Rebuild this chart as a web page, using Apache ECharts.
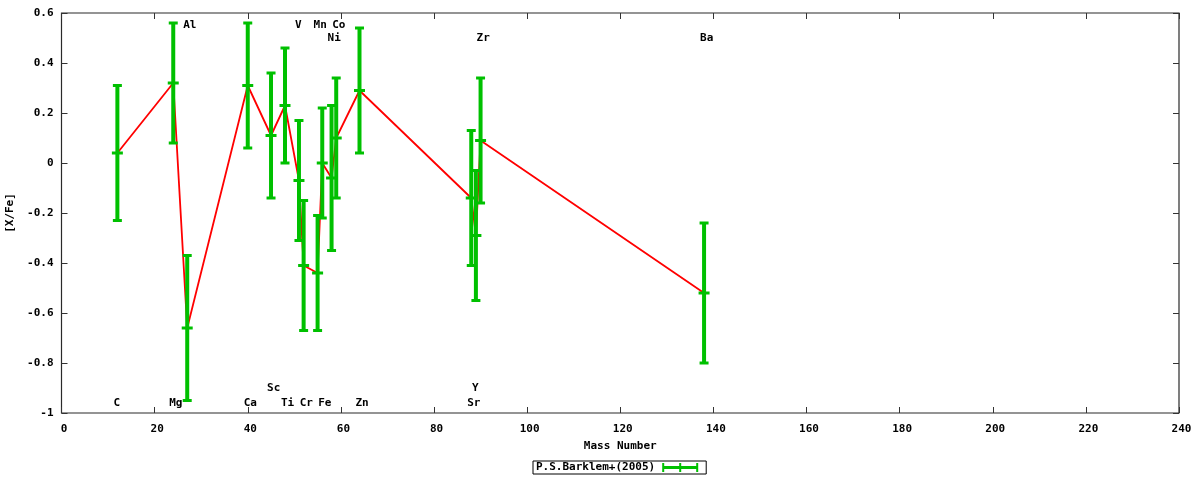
<!DOCTYPE html>
<html>
<head>
<meta charset="utf-8">
<script src="https://cdn.jsdelivr.net/npm/echarts@6/dist/echarts.min.js"></script>
<style>html,body{margin:0;padding:0;background:#fff;}#c{width:1200px;height:480px;}</style>
</head>
<body>
<div id="c"></div>
<script>
// ---- data ----
const elements   = ['C','Mg','Al','Ca','Sc','Ti','V','Cr','Mn','Fe','Ni','Co','Zn','Sr','Y','Zr','Ba'];
const massNumber = [12, 24, 27, 40, 45, 48, 51, 52, 55, 56, 58, 59, 64, 88, 89, 90, 138];
const xFe        = [0.04, 0.32, -0.66, 0.31, 0.11, 0.23, -0.07, -0.41, -0.44, 0.00, -0.06, 0.10, 0.29, -0.14, -0.29, 0.09, -0.52];
const xFeErr     = [0.27, 0.24, 0.29, 0.25, 0.25, 0.23, 0.24, 0.26, 0.23, 0.22, 0.29, 0.24, 0.25, 0.27, 0.26, 0.25, 0.28];

const labelText  = ['C','Mg','Al','Ca','Sc','Ti','V','Cr','Mn','Fe','Ni','Co','Zn','Sr','Y','Zr','Ba'];
const labelX     = [12, 24, 27, 40, 45, 48, 51, 52, 55, 56, 58, 59, 64, 88, 89, 90, 138];
const labelY     = [-0.96, -0.96, 0.55, -0.96, -0.9, -0.96, 0.55, -0.96, 0.55, -0.96, 0.5, 0.55, -0.96, -0.96, -0.9, 0.5, 0.5];

const xTicks = {min: 0, max: 240, interval: 20};
const yTicks = {min: -1, max: 0.6, interval: 0.2};
const seriesName = 'P.S.Barklem+(2005)';

// ---- chart ----
const FONT = 'DejaVu Sans Mono';
const GREEN = '#00c000';
const chart = echarts.init(document.getElementById('c'), null, {renderer: 'canvas'});

const errData = massNumber.map((m, i) => [m, xFe[i], xFeErr[i]]);
const lineData = massNumber.map((m, i) => [m, xFe[i]]);
const lblData = labelX.map((m, i) => [m, labelY[i]]);

const axisText = {color: '#000', fontFamily: FONT, fontWeight: 'bold', fontSize: 11};
const tickStyle = {show: true, inside: true, length: 6, lineStyle: {color: '#333'}};

chart.setOption({
  animation: false,
  backgroundColor: '#fff',
  grid: {left: 61.5, right: 21, top: 13, bottom: 67, show: true, borderColor: '#2a2a2a', borderWidth: 1.2,
         backgroundColor: 'transparent', containLabel: false, outerBoundsMode: 'none'},
  legend: {
    data: [seriesName],
    left: 533, top: 461,
    align: 'right',
    itemWidth: 36, itemHeight: 9,
    itemGap: 5,
    padding: [1, 8, 1, 3],
    borderColor: '#000', borderWidth: 1, borderRadius: 0,
    textStyle: {color: '#000', fontFamily: FONT, fontWeight: 'bold', fontSize: 11, padding: [0, 2, 0, 0]},
    icon: 'path://M0,0h2v3h15v-3h2v3h15v-3h2v9h-2v-3h-15v3h-2v-3h-15v3h-2z',
    itemStyle: {color: GREEN}
  },
  xAxis: [{
    type: 'value', min: xTicks.min, max: xTicks.max, interval: xTicks.interval,
    name: 'Mass Number', nameLocation: 'middle', nameGap: 28,
    nameTextStyle: axisText,
    axisLine: {show: false, onZero: false},
    axisTick: tickStyle,
    axisLabel: Object.assign({margin: 11, padding: [0, 0, 0, 5]}, axisText),
    splitLine: {show: false}
  }, {
    type: 'value', position: 'top', min: xTicks.min, max: xTicks.max, interval: xTicks.interval,
    axisLine: {show: false, onZero: false},
    axisTick: tickStyle,
    axisLabel: {show: false}, splitLine: {show: false}
  }],
  yAxis: [{
    type: 'value', min: yTicks.min, max: yTicks.max, interval: yTicks.interval,
    name: '[X/Fe]', nameLocation: 'middle', nameGap: 36, nameRotate: 90,
    nameTextStyle: axisText,
    axisLine: {show: false, onZero: false},
    axisTick: tickStyle,
    axisLabel: Object.assign({margin: 8, formatter: v => String(Math.round(v * 10) / 10)}, axisText),
    splitLine: {show: false}
  }, {
    type: 'value', position: 'right', min: yTicks.min, max: yTicks.max, interval: yTicks.interval,
    axisLine: {show: false, onZero: false},
    axisTick: tickStyle,
    axisLabel: {show: false}, splitLine: {show: false}
  }],
  series: [
    {
      type: 'line', name: 'line', data: lineData, showSymbol: false, symbol: 'none',
      lineStyle: {color: '#ff0000', width: 1.8}, z: 1, silent: true
    },
    {
      type: 'custom', name: seriesName, data: errData, z: 2,
      itemStyle: {color: GREEN},
      renderItem: function (params, api) {
        const x = api.value(0), y = api.value(1), e = api.value(2);
        const t = api.coord([x, y + e]), b = api.coord([x, y - e]), c = api.coord([x, y]);
        const st = {stroke: GREEN, lineWidth: 4};
        const sc = {stroke: GREEN, lineWidth: 3};
        return {type: 'group', children: [
          {type: 'line', shape: {x1: t[0], y1: t[1], x2: b[0], y2: b[1]}, style: st},
          {type: 'line', shape: {x1: t[0] - 4.5, y1: t[1], x2: t[0] + 4.5, y2: t[1]}, style: sc},
          {type: 'line', shape: {x1: b[0] - 4.5, y1: b[1], x2: b[0] + 4.5, y2: b[1]}, style: sc},
          {type: 'line', shape: {x1: c[0] - 5.5, y1: c[1], x2: c[0] + 5.5, y2: c[1]}, style: sc}
        ]};
      }
    },
    {
      type: 'custom', name: 'labels', data: lblData, z: 3, silent: true,
      renderItem: function (params, api) {
        const p = api.coord([api.value(0), api.value(1)]);
        return {type: 'text', x: p[0] - 4, y: p[1], style: {
          text: labelText[params.dataIndex], align: 'left', verticalAlign: 'middle',
          fill: '#000', font: 'bold 11px "' + FONT + '"'
        }};
      }
    }
  ]
});
</script>
</body>
</html>
